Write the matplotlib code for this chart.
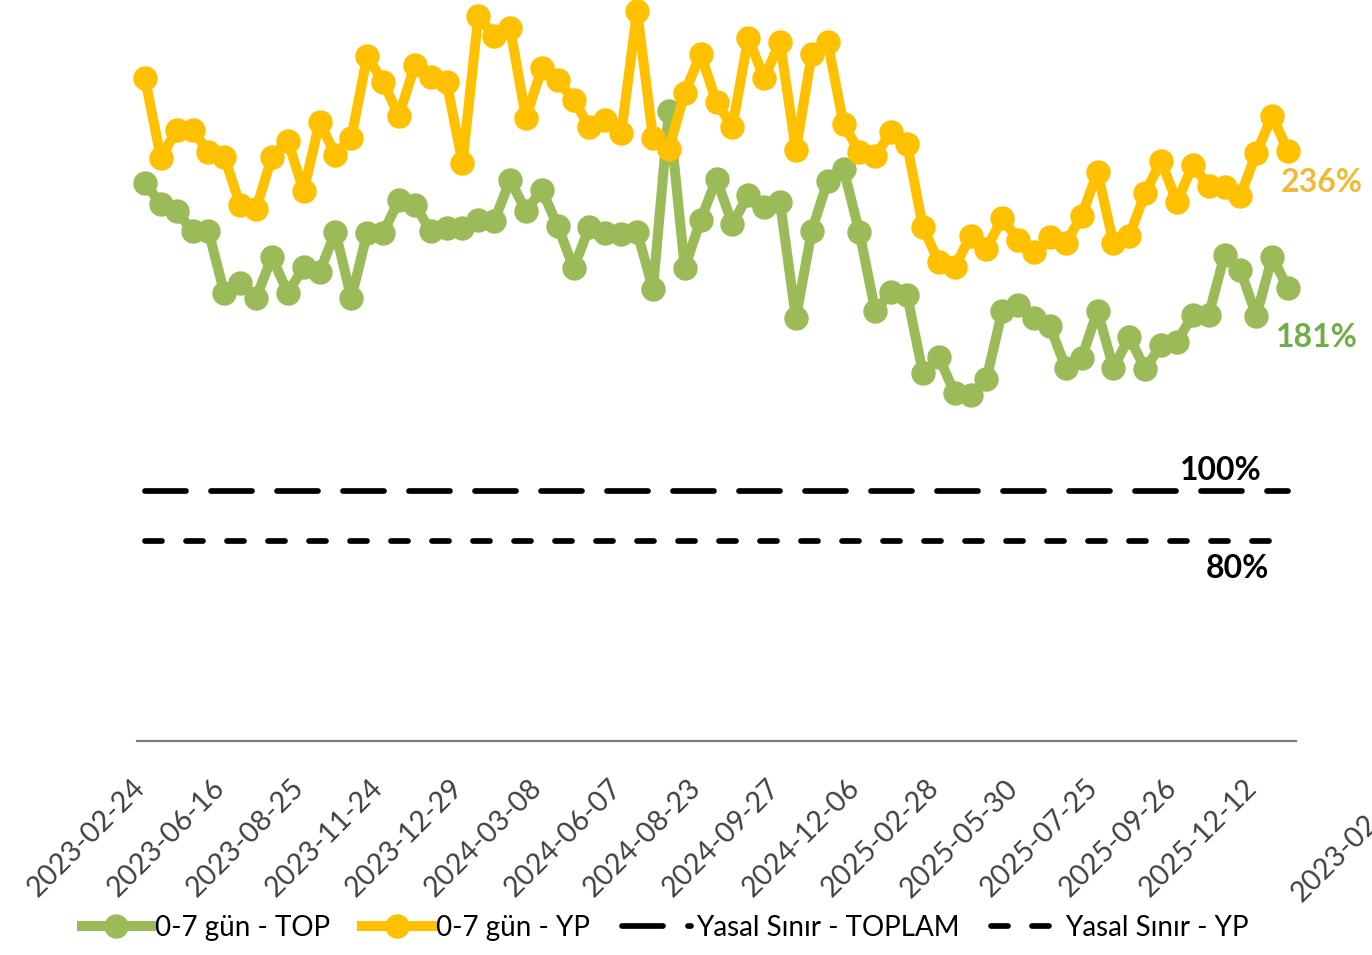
import numpy as np
import matplotlib
matplotlib.use("Agg")
import matplotlib.pyplot as plt
from matplotlib.transforms import ScaledTranslation

plt.rcParams['font.family'] = ['Lato', 'DejaVu Sans']
plt.rcParams['lines.scale_dashes'] = False

# ---- data ----
top_0_7 = [223.2, 214.8, 212.0, 204.0, 204.0, 179.2, 183.2, 177.2, 193.6, 179.2,
           189.6, 187.6, 203.6, 177.2, 203.2, 203.2, 216.4, 214.4, 204.0, 205.2,
           205.2, 208.4, 208.0, 224.4, 212.0, 220.4, 206.0, 189.2, 205.6, 203.2,
           202.8, 203.6, 180.8, 252.0, 189.2, 208.4, 224.8, 206.8, 218.4, 213.6,
           215.6, 169.2, 204.0, 224.0, 228.8, 203.6, 172.0, 179.6, 178.4, 147.2,
           153.6, 139.2, 138.4, 144.8, 172.0, 174.4, 169.2, 166.0, 149.2, 153.2,
           172.0, 149.2, 161.6, 148.8, 158.4, 159.6, 170.4, 170.4, 194.4, 188.4,
           170.0, 193.6, 181.0]
yp_0_7 = [265.2, 233.2, 244.4, 244.4, 235.6, 233.6, 214.4, 212.8, 233.6, 240.0,
          220.0, 247.6, 234.4, 241.2, 274.0, 263.6, 250.0, 270.4, 265.6, 263.6,
          231.2, 290.0, 282.0, 285.2, 249.2, 269.2, 264.4, 256.4, 245.6, 248.4,
          243.2, 292.0, 241.2, 236.8, 259.2, 274.8, 255.6, 245.6, 281.2, 265.2,
          279.6, 236.4, 274.8, 279.6, 246.8, 235.6, 234.0, 243.6, 238.8, 205.6,
          191.6, 189.6, 202.0, 196.8, 209.2, 200.4, 195.6, 201.6, 199.2, 210.0,
          227.6, 199.2, 202.0, 219.2, 232.0, 215.6, 230.4, 222.0, 221.6, 218.0,
          235.2, 250.0, 236.0]
yasal_toplam = 100
yasal_yp = 80
tick_positions = list(range(0, 73, 5))
tick_labels = ['2023-02-24', '2023-06-16', '2023-08-25', '2023-11-24', '2023-12-29',
               '2024-03-08', '2024-06-07', '2024-08-23', '2024-09-27', '2024-12-06',
               '2025-02-28', '2025-05-30', '2025-07-25', '2025-09-26', '2025-12-12']
extra_label = '2023-02-24'
series_names = ['0-7 gün - TOP', '0-7 gün - YP', 'Yasal Sınır - TOPLAM', 'Yasal Sınır - YP']

GREEN = '#9BBB59'
YELLOW = '#FFC000'
GREEN_TXT = '#70AD47'
YELLOW_TXT = '#F5B835'

W, H = 1372, 955
fig = plt.figure(figsize=(W / 100, H / 100), dpi=100)
ax = fig.add_axes([137 / W, 1 - 741 / H, (1296 - 137) / W, 741 / H])

x = np.arange(len(top_0_7))
px = 0.72  # points per pixel

ax.plot(x, top_0_7, color=GREEN, lw=10 * px, marker='o', ms=23 * px,
        mec=GREEN, mfc=GREEN, solid_joinstyle='round', clip_on=False, zorder=3,
        label=series_names[0])
ax.plot(x, yp_0_7, color=YELLOW, lw=10 * px, marker='o', ms=23 * px,
        mec=YELLOW, mfc=YELLOW, solid_joinstyle='round', clip_on=False, zorder=4,
        label=series_names[1])
lw_lim = 5.7 * px
ax.plot(x, np.full(len(x), yasal_toplam), color='black', lw=lw_lim,
        dash_capstyle='round', dashes=(41 * px, 25 * px), zorder=2,
        label=series_names[2])
ax.plot(x, np.full(len(x), yasal_yp), color='black', lw=lw_lim,
        dash_capstyle='round', dashes=(17 * px, 24 * px), zorder=2,
        label=series_names[3])

ax.set_xlim(-0.5, 72.5)
ax.set_ylim(0, 296.4)
for s in ['top', 'right', 'left']:
    ax.spines[s].set_visible(False)
ax.spines['bottom'].set_color('#7a7a7a')
ax.spines['bottom'].set_linewidth(1.6)
ax.set_yticks([])

ax.set_xticks(tick_positions)
ax.set_xticklabels(tick_labels, rotation=45, ha='right', va='center',
                   rotation_mode='anchor', fontsize=20.5, color='#404040')
ax.tick_params(axis='x', length=0, pad=43 * px)
off = ScaledTranslation(-4 / 100, 0, fig.dpi_scale_trans)
for lab in ax.get_xticklabels():
    lab.set_transform(lab.get_transform() + off)

ax.annotate(extra_label, xy=(79.6, 0), xycoords=('data', 'axes fraction'),
            xytext=(-4 * px, -48 * px), textcoords='offset points',
            rotation=45, ha='right', va='center', rotation_mode='anchor',
            fontsize=20.5, color='#404040', annotation_clip=False)

# end labels
ax.annotate(f"{yp_0_7[-1]:.0f}%", xy=(x[-1], yp_0_7[-1]), xytext=(-7 * px, -32 * px),
            textcoords='offset points', ha='left', va='center', fontsize=23,
            fontweight='bold', color=YELLOW_TXT, annotation_clip=False)
ax.annotate(f"{top_0_7[-1]:.0f}%", xy=(x[-1], top_0_7[-1]), xytext=(-12 * px, -49 * px),
            textcoords='offset points', ha='left', va='center', fontsize=23,
            fontweight='bold', color=GREEN_TXT, annotation_clip=False)
ax.annotate(f"{yasal_toplam}%", xy=(x[-1], yasal_toplam), xytext=(-108 * px, 20 * px),
            textcoords='offset points', ha='left', va='center', fontsize=23,
            fontweight='bold', color='black', annotation_clip=False)
ax.annotate(f"{yasal_yp}%", xy=(x[-1], yasal_yp), xytext=(-82 * px, -27 * px),
            textcoords='offset points', ha='left', va='center', fontsize=23,
            fontweight='bold', color='black', annotation_clip=False)

leg = fig.legend(loc='center', bbox_to_anchor=(665 / W, 1 - 928 / H), ncol=4,
                 frameon=False, fontsize=20, handlelength=2.5, handletextpad=0.15,
                 columnspacing=1.15, borderpad=0, borderaxespad=0)

fig.savefig('out.png', dpi=100)
